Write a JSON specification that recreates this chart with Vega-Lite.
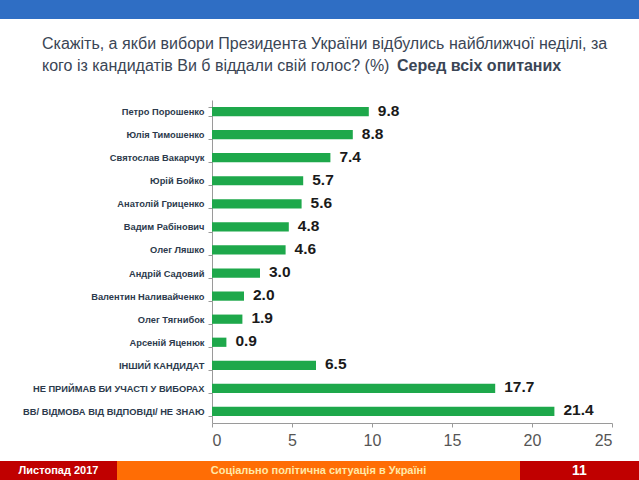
{
  "$schema": "https://vega.github.io/schema/vega-lite/v6.json",
  "padding": 0,
  "background": "white",
  "config": {
    "view": {"stroke": null},
    "font": "Liberation Sans",
    "concat": {"spacing": 0}
  },
  "spacing": 0,
  "vconcat": [
    {
      "width": 639, "height": 19,
      "view": {"fill": "#2f6ec4", "stroke": null},
      "data": {"values": [{"t": ""}]},
      "mark": {"type": "text", "fontSize": 1},
      "encoding": {"text": {"field": "t"}}
    },
    {
      "width": 10, "height": 16,
      "data": {"values": [{"t": ""}]},
      "mark": {"type": "text", "fontSize": 1},
      "encoding": {"text": {"field": "t"}}
    },
    {
      "hconcat": [
        {
          "width": 355, "height": 1,
          "title": {
            "text": "Скажіть, а якби вибори Президента України відбулись найближчої неділі, за",
            "subtitle": "кого із кандидатів Ви б віддали свій голос? (%)",
            "anchor": "start", "dx": 42, "offset": 4,
            "font": "Liberation Sans", "fontSize": 16, "fontWeight": "normal", "color": "#3a4555",
            "subtitleFont": "Liberation Sans", "subtitleFontSize": 16, "subtitleColor": "#3a4555",
            "subtitlePadding": 6, "limit": 0
          },
          "data": {"values": [{"t": ""}]},
          "mark": {"type": "text", "fontSize": 1},
          "encoding": {"text": {"field": "t"}}
        },
        {
          "width": 200, "height": 1,
          "title": {
            "text": "Серед всіх опитаних",
            "anchor": "start", "dx": 42, "offset": 4,
            "font": "Liberation Sans", "fontSize": 16, "fontWeight": "bold", "color": "#3a4555",
            "limit": 0
          },
          "data": {"values": [{"t": ""}]},
          "mark": {"type": "text", "fontSize": 1},
          "encoding": {"text": {"field": "t"}}
        }
      ],
      "bounds": "flush",
      "spacing": 0
    },
    {
      "width": 10, "height": 17,
      "data": {"values": [{"t": ""}]},
      "mark": {"type": "text", "fontSize": 1},
      "encoding": {"text": {"field": "t"}}
    },
    {
      "hconcat": [
        {
          "width": 212, "height": 323,
          "data": {"values": [{"t": ""}]},
          "mark": {"type": "text", "fontSize": 1},
          "encoding": {"text": {"field": "t"}}
        },
        {
          "width": 400, "height": 323,
          "data": {"values": [
            {"name": "Петро Порошенко", "value": 9.8},
            {"name": "Юлія Тимошенко", "value": 8.8},
            {"name": "Святослав Вакарчук", "value": 7.4},
            {"name": "Юрій Бойко", "value": 5.7},
            {"name": "Анатолій Гриценко", "value": 5.6},
            {"name": "Вадим Рабінович", "value": 4.8},
            {"name": "Олег Ляшко", "value": 4.6},
            {"name": "Андрій Садовий", "value": 3.0},
            {"name": "Валентин Наливайченко", "value": 2.0},
            {"name": "Олег Тягнибок", "value": 1.9},
            {"name": "Арсеній Яценюк", "value": 0.9},
            {"name": "ІНШИЙ КАНДИДАТ", "value": 6.5},
            {"name": "НЕ ПРИЙМАВ БИ УЧАСТІ У ВИБОРАХ", "value": 17.7},
            {"name": "ВВ/ ВІДМОВА ВІД ВІДПОВІДІ/ НЕ ЗНАЮ", "value": 21.4}
          ]},
          "encoding": {
            "y": {
              "field": "name", "type": "nominal", "sort": null,
              "scale": {"paddingInner": 0.6, "paddingOuter": 0.3},
              "axis": {
                "title": null, "labelFont": "Liberation Sans", "labelFontWeight": "bold",
                "labelFontSize": 9.3, "labelColor": "#2c3a4c", "labelPadding": 4,
                "tickSize": 4, "tickBand": "extent", "tickColor": "#9a9a9a",
                "domainColor": "#9a9a9a", "labelLimit": 400
              }
            },
            "x": {
              "field": "value", "type": "quantitative",
              "scale": {"domain": [0, 25]},
              "axis": {
                "title": null, "grid": false, "values": [0, 5, 10, 15, 20, 25],
                "labelFont": "Liberation Sans", "labelFontSize": 16, "labelColor": "#555555",
                "labelPadding": 5, "tickSize": 4, "tickColor": "#9a9a9a", "domainColor": "#9a9a9a"
              }
            }
          },
          "layer": [
            {"mark": {"type": "bar", "color": "#1ea84b"}},
            {
              "mark": {"type": "text", "align": "left", "baseline": "middle", "dx": 9, "dy": -1,
                       "font": "Liberation Sans", "fontSize": 15.5, "fontWeight": "bold", "color": "#1a1a1a"},
              "encoding": {"text": {"field": "value", "type": "quantitative", "format": ".1f"}}
            }
          ]
        }
      ],
      "bounds": "flush",
      "spacing": 0
    },
    {
      "width": 10, "height": 13,
      "data": {"values": [{"t": ""}]},
      "mark": {"type": "text", "fontSize": 1},
      "encoding": {"text": {"field": "t"}}
    },
    {
      "hconcat": [
        {
          "width": 117, "height": 20,
          "view": {"fill": "#c00000", "stroke": null},
          "data": {"values": [{"t": "Листопад 2017"}]},
          "mark": {"type": "text", "font": "Liberation Sans", "fontWeight": "bold", "fontSize": 11, "color": "#ffffff"},
          "encoding": {"text": {"field": "t"}}
        },
        {
          "width": 403, "height": 20,
          "view": {"fill": "#ff6d05", "stroke": null},
          "data": {"values": [{"t": "Соціально політична ситуація в Україні"}]},
          "mark": {"type": "text", "font": "Liberation Sans", "fontWeight": "bold", "fontSize": 11, "color": "#ffe9a8"},
          "encoding": {"text": {"field": "t"}}
        },
        {
          "width": 119, "height": 20,
          "view": {"fill": "#c00000", "stroke": null},
          "data": {"values": [{"t": "11"}]},
          "mark": {"type": "text", "font": "Liberation Sans", "fontWeight": "bold", "fontSize": 14, "color": "#ffffff"},
          "encoding": {"text": {"field": "t"}}
        }
      ],
      "spacing": 0
    }
  ]
}
